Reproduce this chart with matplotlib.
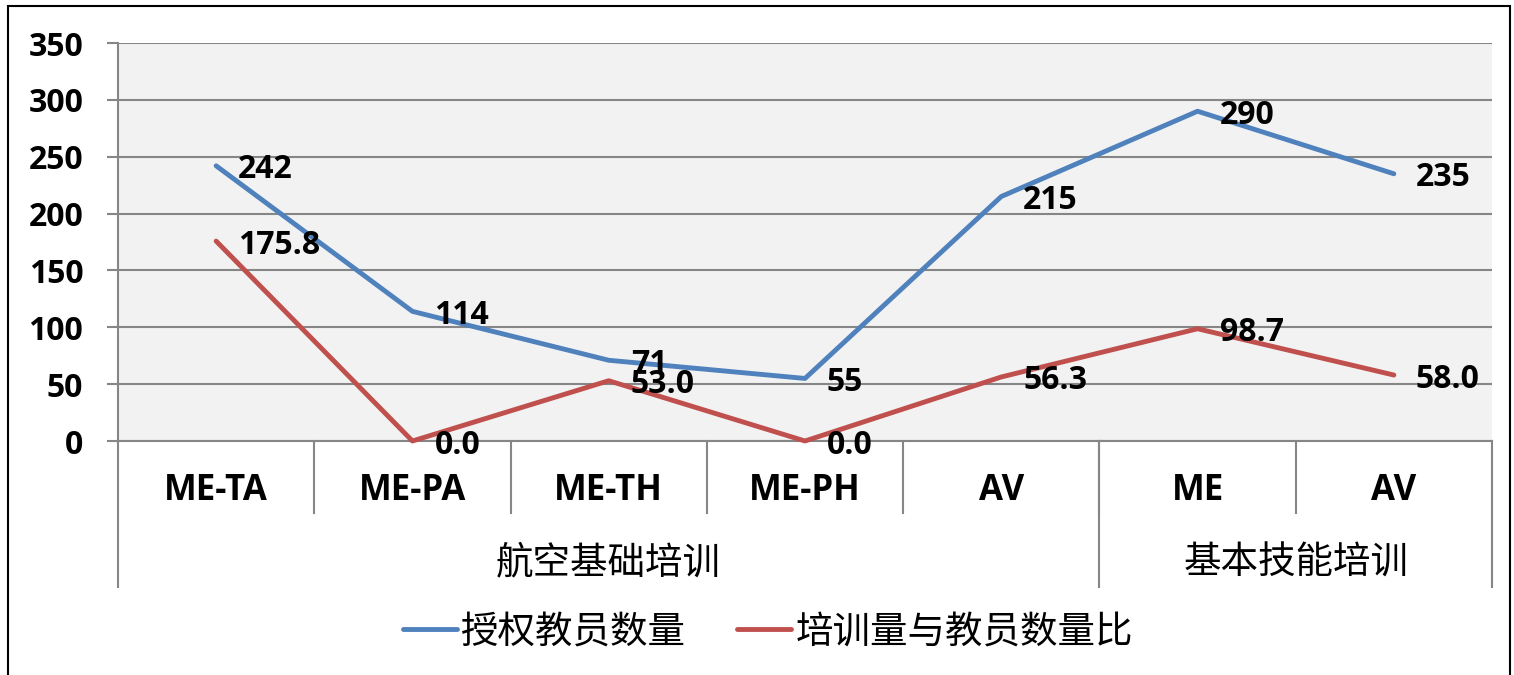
import matplotlib
matplotlib.use('AGG')
import matplotlib.pyplot as plt
import matplotlib.transforms as mtransforms
from matplotlib.patches import Rectangle
import numpy as np

plt.rcParams['font.family'] = ['Open Sans', 'Noto Sans CJK SC', 'DejaVu Sans']

categories = ['ME-TA', 'ME-PA', 'ME-TH', 'ME-PH', 'AV', 'ME', 'AV']
groups = ['航空基础培训', '基本技能培训']
group_sizes = [5, 2]
instructors = [242, 114, 71, 55, 215, 290, 235]
ratio = [175.8, 0.0, 53.0, 0.0, 56.3, 98.7, 58.0]
series_names = ['授权教员数量', '培训量与教员数量比']

W, H = 1514, 675
fig = plt.figure(figsize=(W / 100, H / 100), dpi=100)
ax = fig.add_axes([118 / W, (H - 441) / H, (1492 - 118) / W, (441 - 43) / H])
ax.set_facecolor('#f2f2f2')

x = np.arange(len(categories))
blue = '#4f81bd'
red = '#c0504d'
l1, = ax.plot(x, instructors, color=blue, lw=3.5, solid_capstyle='round', zorder=3, clip_on=False)
l2, = ax.plot(x, ratio, color=red, lw=3.5, solid_capstyle='round', zorder=3, clip_on=False)

for xi, v in zip(x, instructors):
    ax.annotate('%d' % v, (xi, v), xytext=(22, -4), textcoords='offset pixels',
                ha='left', va='center', fontsize=23, fontweight='bold', zorder=4, annotation_clip=False)
for xi, v in zip(x, ratio):
    ax.annotate('%.1f' % v, (xi, v), xytext=(22, -4), textcoords='offset pixels',
                ha='left', va='center', fontsize=23, fontweight='bold', zorder=4, annotation_clip=False)

ax.set_xlim(-0.5, len(categories) - 0.5)
ax.set_ylim(0, 350)
ax.set_yticks(np.arange(0, 351, 50))
ax.yaxis.grid(True, color='#868686', lw=1.5)
ax.set_axisbelow(True)
ax.tick_params(axis='y', length=8, width=1.5, color='#868686', pad=17, labelsize=23)
for lab in ax.get_yticklabels():
    lab.set_fontweight('bold')
ax.set_xticks([])
for s in ['top', 'right']:
    ax.spines[s].set_visible(False)
ax.spines['left'].set_color('#868686')
ax.spines['left'].set_linewidth(1.5)
ax.spines['bottom'].set_color('#868686')
ax.spines['bottom'].set_linewidth(1.5)

# multi-level category axis
trans = mtransforms.blended_transform_factory(ax.transData, ax.transAxes)
for i, c in enumerate(categories):
    ax.text(i, -0.125, c, transform=trans, ha='center', va='center',
            fontsize=25, fontweight='bold')
for b in np.arange(0.5, len(categories) - 0.5, 1.0):
    ax.plot([b, b], [0, -0.181], transform=trans, color='#868686', lw=1.5, clip_on=False)
start = -0.5
ax.plot([start, start], [0, -0.367], transform=trans, color='#868686', lw=1.5, clip_on=False)
for g, n in zip(groups, group_sizes):
    end = start + n
    ax.text((start + end) / 2, -0.3065, g, transform=trans, ha='center', va='center',
            fontsize=27, family='Noto Sans CJK SC')
    ax.plot([end, end], [0, -0.367], transform=trans, color='#868686', lw=1.5, clip_on=False)
    start = end

leg = fig.legend([l1, l2], series_names, loc='center', bbox_to_anchor=(768 / W, 43 / H),
                 ncol=2, frameon=False, handlelength=1.45, handletextpad=0.12,
                 columnspacing=1.35, prop={'family': 'Noto Sans CJK SC', 'size': 27})

fig.patches.append(Rectangle((8 / W, -0.02), (1510 - 8) / W, 1.02 - 6 / H,
                             transform=fig.transFigure, fill=False, edgecolor='black', lw=1.5))

plt.savefig('out.png', dpi=100)
